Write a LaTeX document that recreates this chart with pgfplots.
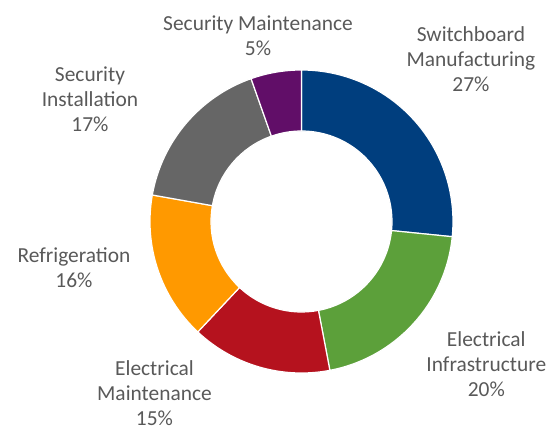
\documentclass[border=0pt]{standalone}
\usepackage{pgfplots}
\pgfplotsset{compat=1.18}
\usepackage{pgfplotstable}
\usepackage{fontspec}
\setmainfont{Carlito}

\definecolor{c-switch}{RGB}{0,62,126}
\definecolor{c-infra}{RGB}{92,160,58}
\definecolor{c-maint}{RGB}{181,18,30}
\definecolor{c-refrig}{RGB}{255,153,0}
\definecolor{c-install}{RGB}{102,102,102}
\definecolor{c-secmaint}{RGB}{97,14,104}
\definecolor{labelgray}{RGB}{89,89,89}

% shares in percent, clockwise from 12 o'clock
\pgfplotstableread{
share colour
26.6 c-switch
20.4 c-infra
15.0 c-maint
15.8 c-refrig
16.8 c-install
5.4  c-secmaint
}\shares

\begin{document}
\begin{tikzpicture}
\begin{axis}[
    x=1bp, y=1bp,
    xmin=0, xmax=548, ymin=0, ymax=430,
    y dir=reverse,
    scale only axis,
    hide axis,
    clip=false,
]
\pgfplotsextra{
  \pgfplotstablegetrowsof{\shares}
  \pgfmathtruncatemacro\lastrow{\pgfplotsretval-1}
  \gdef\cum{0}
  \foreach \i in {0,...,\lastrow}{
    \pgfplotstablegetelem{\i}{share}\of\shares \let\v\pgfplotsretval
    \pgfplotstablegetelem{\i}{colour}\of\shares \let\col\pgfplotsretval
    \pgfmathsetmacro\a{90-3.6*\cum}
    \pgfmathsetmacro\b{90-3.6*(\cum+\v)}
    \pgfmathsetmacro\back{\b+180}
    \fill[fill=\col, draw=white, line width=1.2bp]
      (axis cs:301.5,221.5) ++(\a:151.5bp)
      arc[start angle=\a, end angle=\b, radius=151.5bp]
      -- ++(\back:61bp)
      arc[start angle=\b, end angle=\a, radius=90.5bp] -- cycle;
    \pgfmathsetmacro\newcum{\cum+\v}
    \xdef\cum{\newcum}
  }
}
% labels: anchor = baseline of the last line
\begin{scope}[every node/.style={anchor=base, align=center, text=labelgray,
    font=\fontsize{21.5}{25}\selectfont}]
\node at (axis cs:471,91.7)   {Switchboard\\Manufacturing\\27\%};
\node at (axis cs:486.3,396.7){Electrical\\Infrastructure\\20\%};
\node at (axis cs:154.5,425.5){Electrical\\Maintenance\\15\%};
\node at (axis cs:74,287.3)   {Refrigeration\\16\%};
\node at (axis cs:90,131.5)   {Security\\Installation\\17\%};
\node at (axis cs:258,55)     {Security Maintenance\\5\%};
\end{scope}
\end{axis}
\pgfresetboundingbox
\path (0,0) rectangle (548bp,430bp);
\end{tikzpicture}
\end{document}
